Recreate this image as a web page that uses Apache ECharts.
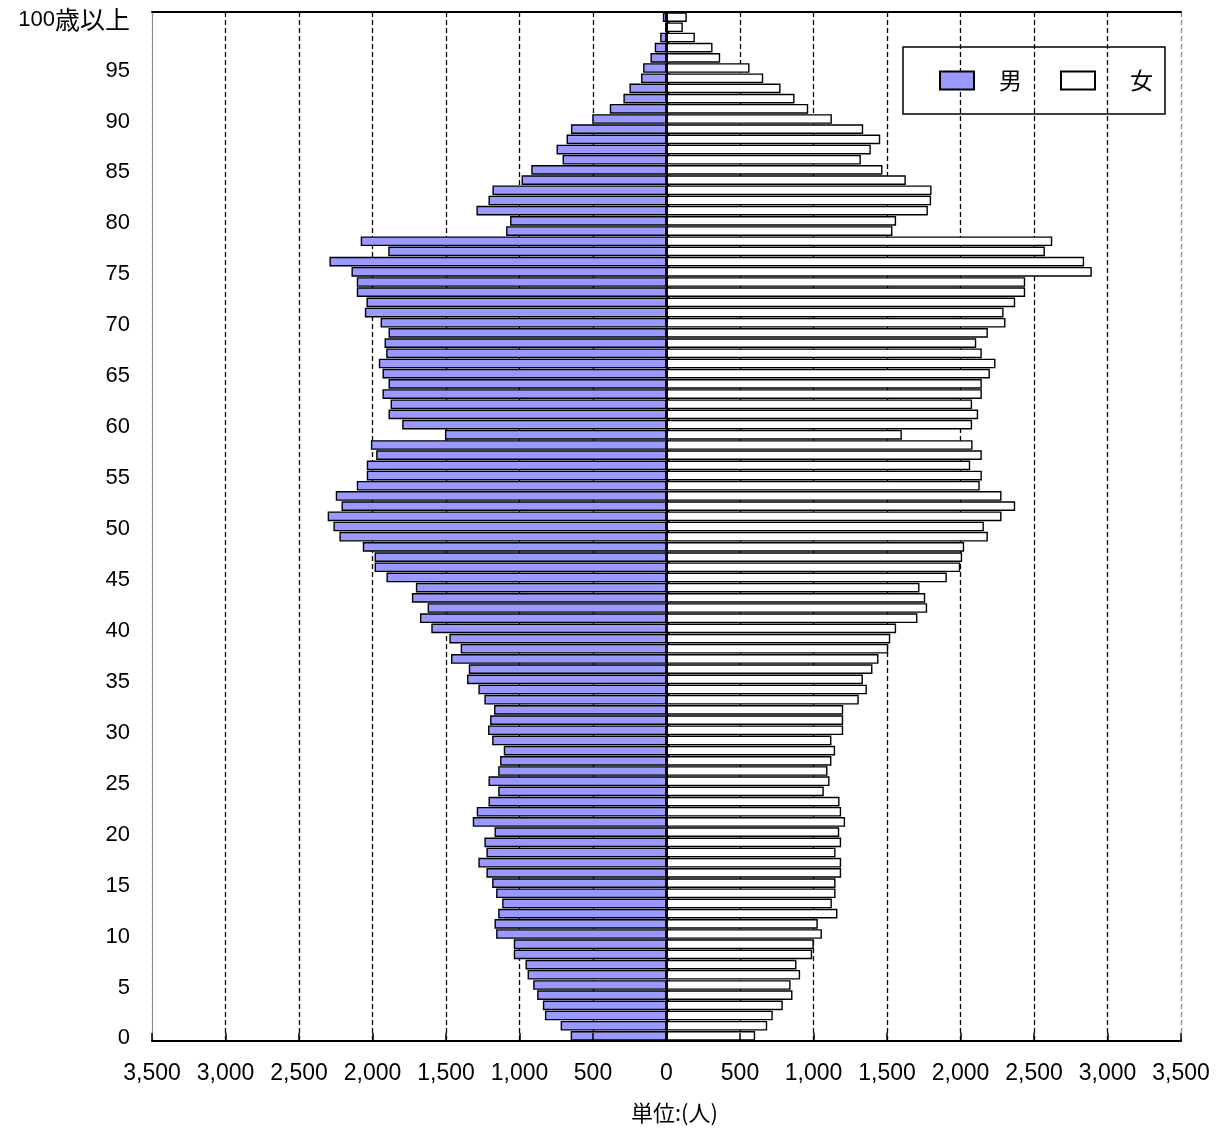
<!DOCTYPE html>
<html>
<head>
<meta charset="utf-8">
<script src="https://cdn.jsdelivr.net/npm/echarts@6/dist/echarts.min.js"></script>
<style>
html,body{margin:0;padding:0;background:#fff;}
#c{width:1225px;height:1131px;}
</style>
</head>
<body>
<div id="c"></div>
<script>
// Age categories (bottom to top)
const ageLabels = [
  '0','1','2','3','4','5','6','7','8','9',
  '10','11','12','13','14','15','16','17','18','19',
  '20','21','22','23','24','25','26','27','28','29',
  '30','31','32','33','34','35','36','37','38','39',
  '40','41','42','43','44','45','46','47','48','49',
  '50','51','52','53','54','55','56','57','58','59',
  '60','61','62','63','64','65','66','67','68','69',
  '70','71','72','73','74','75','76','77','78','79',
  '80','81','82','83','84','85','86','87','88','89',
  '90','91','92','93','94','95','96','97','98','99',
  '100歳以上'
];

// Male population by age (0 .. 100+)
const male = [
  652, 720, 827, 841, 880, 907, 945, 959, 1039, 1039,
  1159, 1170, 1145, 1118, 1159, 1186, 1225, 1280, 1225, 1239,
  1170, 1318, 1291, 1211, 1145, 1211, 1145, 1132, 1107, 1186,
  1214, 1200, 1173, 1239, 1280, 1357, 1345, 1466, 1400, 1477,
  1600, 1677, 1625, 1732, 1705, 1905, 1986, 1986, 2066, 2225,
  2266, 2305, 2211, 2250, 2107, 2039, 2039, 1975, 2011, 1507,
  1798, 1891, 1877, 1932, 1891, 1932, 1957, 1907, 1918, 1891,
  1945, 2052, 2041, 2107, 2107, 2143, 2293, 1893, 2080, 1091,
  1064, 1293, 1211, 1184, 986, 920, 707, 748, 680, 650,
  505, 386, 293, 252, 173, 159, 109, 80, 43, 10,
  25
];

// Female population by age (0 .. 100+)
const female = [
  603, 685, 723, 791, 857, 844, 909, 884, 991, 1002,
  1057, 1029, 1163, 1125, 1150, 1150, 1188, 1188, 1150, 1188,
  1175, 1215, 1188, 1177, 1070, 1109, 1095, 1122, 1147, 1122,
  1202, 1202, 1202, 1308, 1363, 1336, 1401, 1442, 1508, 1522,
  1562, 1707, 1773, 1760, 1721, 1907, 1998, 2011, 2025, 2186,
  2159, 2279, 2372, 2279, 2131, 2145, 2066, 2145, 2082, 1601,
  2079, 2120, 2079, 2145, 2145, 2200, 2238, 2145, 2107, 2186,
  2306, 2293, 2372, 2440, 2440, 2893, 2841, 2574, 2624, 1537,
  1562, 1778, 1800, 1803, 1628, 1469, 1322, 1390, 1454, 1338,
  1125, 964, 871, 776, 658, 565, 365, 313, 193, 111,
  138
];

const seriesNames = ['男', '女'];
const unitLabel = '単位:(人)';

const latin = '"Liberation Sans", Arial, "Noto Sans CJK JP", sans-serif';
const cjk = '"Noto Sans CJK JP", sans-serif';

const chart = echarts.init(document.getElementById('c'), null, {renderer: 'canvas'});

const gridColors = ['#8c8c8c'];
for (let i = 0; i < 13; i++) gridColors.push('#000000');

const option = {
  animation: false,
  backgroundColor: '#ffffff',
  grid: {left: 152, right: 44, top: 12, bottom: 90, containLabel: false, outerBoundsMode: 'none'},
  legend: {
    left: 903, top: 47, orient: 'horizontal',
    padding: [22, 12, 22, 36],
    itemGap: 38, itemWidth: 34, itemHeight: 18,
    borderColor: '#000', borderWidth: 1.5,
    textStyle: {fontSize: 23, color: '#000', fontFamily: cjk},
    data: [
      {name: seriesNames[0], icon: 'rect', textStyle: {padding: [0, 0, 0, 20]}},
      {name: seriesNames[1], icon: 'rect', textStyle: {padding: [0, 0, 0, 30]}}
    ]
  },
  xAxis: [
    {
      type: 'value', position: 'bottom', min: -3500, max: 3500, interval: 500,
      axisLine: {show: true, onZero: false, lineStyle: {color: '#000', width: 2}},
      axisTick: {show: false},
      axisLabel: {
        formatter: v => Math.abs(v).toLocaleString('en-US'),
        fontSize: 23, color: '#000', fontFamily: latin, margin: 21
      },
      splitLine: {show: true, lineStyle: {type: [5, 3], color: gridColors, width: 1.3}},
      name: unitLabel, nameLocation: 'middle', nameGap: 61,
      nameTextStyle: {fontSize: 22, color: '#000', fontFamily: cjk, padding: [0, 0, 0, 16]}
    },
    {
      type: 'value', position: 'bottom', min: -3500, max: 3500, interval: 500, z: 10,
      axisLine: {show: false, onZero: false},
      axisTick: {show: true, inside: true, length: 8, lineStyle: {color: '#000', width: 1.5}},
      axisLabel: {show: false},
      splitLine: {show: false}
    },
    {
      type: 'value', position: 'top', min: -3500, max: 3500, interval: 500,
      axisLine: {show: true, onZero: false, lineStyle: {color: '#000', width: 2}},
      axisTick: {show: false},
      axisLabel: {show: false},
      splitLine: {show: false}
    }
  ],
  yAxis: [
    {
      type: 'category', data: ageLabels, position: 'left',
      axisLine: {show: true, onZero: false, lineStyle: {color: '#8c8c8c', width: 1}},
      axisTick: {show: false},
      axisLabel: {
        interval: i => i % 5 === 0,
        fontSize: 22, color: '#000', fontFamily: latin, margin: 22,
        padding: [5, 0, 0, 0],
        formatter: v => /\D/.test(v) ? v.replace(/^(\d+)(.*)$/, '{n|$1}{k|$2}') : v,
        rich: {
          n: {fontSize: 22, color: '#000', fontFamily: latin, lineHeight: 28, verticalAlign: 'middle'},
          k: {fontSize: 25, color: '#000', fontFamily: cjk, lineHeight: 28, verticalAlign: 'middle'}
        }
      },
      splitLine: {show: false}
    },
    {
      type: 'category', data: ageLabels, position: 'left', z: 10,
      axisLine: {show: true, onZero: true, lineStyle: {color: '#000', width: 1.5}},
      axisTick: {show: true, inside: true, interval: 0, length: 3, lineStyle: {color: '#000', width: 1}},
      axisLabel: {show: false},
      splitLine: {show: false}
    }
  ],
  series: [
    {
      name: seriesNames[0], type: 'bar', xAxisIndex: 0, yAxisIndex: 0,
      data: male.map(v => -v),
      barGap: '-100%', barCategoryGap: '5%',
      itemStyle: {color: '#9999FF', borderColor: '#000', borderWidth: 1.4}
    },
    {
      name: seriesNames[1], type: 'bar', xAxisIndex: 0, yAxisIndex: 0,
      data: female,
      barGap: '-100%', barCategoryGap: '5%',
      itemStyle: {color: '#FFFFFF', borderColor: '#000', borderWidth: 1.4}
    }
  ]
};

chart.setOption(option);
</script>
</body>
</html>
